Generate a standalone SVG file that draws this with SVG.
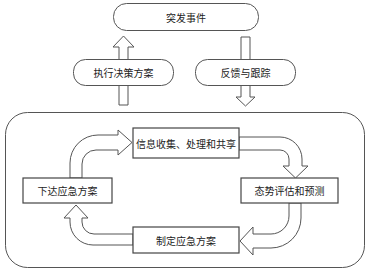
<svg xmlns="http://www.w3.org/2000/svg" width="370" height="274" viewBox="0 0 370 274">
<style>
.bg{fill:#ffffff}
.rbox{fill:#ffffff;stroke:#555;stroke-width:1}
.box{fill:#ffffff;stroke:#444;stroke-width:1.2}
.arr{fill:#ffffff;stroke:#555;stroke-width:1;stroke-linejoin:miter}
.lbl{font-family:"Noto Sans CJK SC","Noto Sans CJK JP",sans-serif;font-size:10px;fill:#222;text-anchor:middle;dominant-baseline:central}
</style>
<rect class="bg" x="0" y="0" width="370" height="274"/>
<g id="container">
  <rect class="rbox" x="5.5" y="112.5" width="359" height="155" rx="22" ry="22"/>
</g>
<g id="connectors">
  <path class="arr" d="M119,59 L119,47 L113,47 L123.5,36 L134,47 L128,47 L128,59"/>
  <path class="arr" d="M119,85 L119,105 L128,105 L128,85"/>
  <path class="arr" d="M241,59 L241,37 L250,37 L250,59"/>
  <path class="arr" d="M241,85 L241,97 L236,97 L245.5,106 L255,97 L250,97 L250,85"/>
  <path class="arr" d="M70,178 L70,163 A28,28 0 0 1 98,135 L118,135 L118,130 L132,142.5 L118,155 L118,150 L96,150 A14,14 0 0 0 82,164 L82,178 Z"/>
  <path class="arr" d="M239,137 L280,137 A22,22 0 0 1 302,159 L302,166 L308,166 L295.5,178 L283,166 L289,166 L289,159 A9,9 0 0 0 280,150 L239,150 Z"/>
  <path class="arr" d="M289,203 L289,216 A18,18 0 0 1 271,234 L253,234 L253,227 L240,241 L253,255 L253,248 L271,248 A30,30 0 0 0 301,218 L301,203 Z"/>
  <path class="arr" d="M133,234 L94,234 A12,12 0 0 1 82,222 L82,218 L88,218 L76,205 L64,218 L70,218 L70,222 A23,23 0 0 0 93,245 L133,245 Z"/>
</g>
<g id="n-event">
  <rect class="rbox" x="113.5" y="3.5" width="145" height="27" rx="13" ry="13"/>
  <text class="lbl" x="186" y="17">突发事件</text>
</g>
<g id="n-execute">
  <rect class="rbox" x="73.5" y="59.5" width="100" height="26" rx="12" ry="12"/>
  <text class="lbl" x="123.5" y="72.5">执行决策方案</text>
</g>
<g id="n-feedback">
  <rect class="rbox" x="195.5" y="59.5" width="100" height="26" rx="12" ry="12"/>
  <text class="lbl" x="245.5" y="72.5">反馈与跟踪</text>
</g>
<g id="n-info">
  <rect class="box" x="133" y="128" width="106" height="30"/>
  <text class="lbl" x="186" y="143">信息收集、处理和共享</text>
</g>
<g id="n-issue">
  <rect class="box" x="23" y="178" width="89" height="25"/>
  <text class="lbl" x="67.5" y="190.5">下达应急方案</text>
</g>
<g id="n-assess">
  <rect class="box" x="241" y="178" width="97" height="25"/>
  <text class="lbl" x="289.5" y="190.5">态势评估和预测</text>
</g>
<g id="n-plan">
  <rect class="box" x="133" y="227" width="106" height="26"/>
  <text class="lbl" x="186" y="240">制定应急方案</text>
</g>
</svg>
